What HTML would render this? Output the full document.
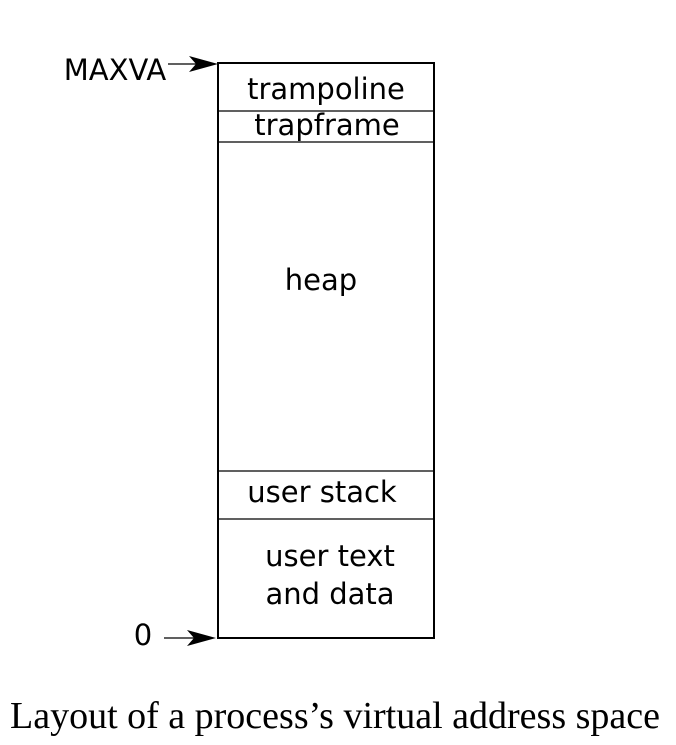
<!DOCTYPE html>
<html><head><style>body{margin:0;background:#fff}</style></head><body>
<svg width="676" height="740" viewBox="0 0 676 740" xmlns="http://www.w3.org/2000/svg">
<rect x="218" y="63" width="216" height="575" fill="none" stroke="#000" stroke-width="2"/>
<g stroke="#000" stroke-width="1.2">
<line x1="218" y1="111" x2="434" y2="111"/>
<line x1="218" y1="142" x2="434" y2="142"/>
<line x1="218" y1="471" x2="434" y2="471"/>
<line x1="218" y1="519" x2="434" y2="519"/>
<line x1="168" y1="64" x2="200" y2="64"/>
<line x1="164" y1="638" x2="200" y2="638"/>
</g>
<path d="M218 64 L189 56 L196 64 L189 72 Z" fill="#000"/>
<path d="M216 638 L187 630 L194 638 L187 646 Z" fill="#000"/>
<g font-family="DejaVu Sans, sans-serif" font-size="29" text-anchor="middle" fill="#000">
<text x="326" y="99">trampoline</text>
<text x="327" y="135">trapframe</text>
<text x="321" y="290">heap</text>
<text x="322" y="502">user stack</text>
<text x="330" y="566">user text</text>
<text x="330" y="604">and data</text>
<text x="115" y="80">MAXVA</text>
<text x="143" y="645">0</text>
</g>
<text x="335" y="728" font-family="Liberation Serif, serif" font-size="38" text-anchor="middle">Layout of a process’s virtual address space</text>
</svg>
</body></html>
